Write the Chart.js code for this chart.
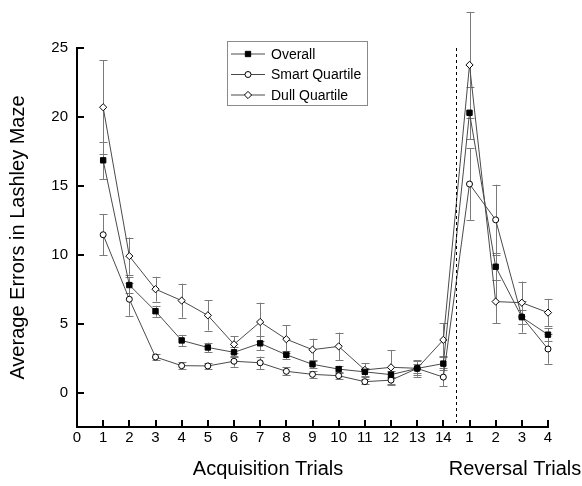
<!DOCTYPE html>
<html>
<head>
<meta charset="utf-8">
<script src="https://cdn.jsdelivr.net/npm/chart.js@4.4.0/dist/chart.umd.min.js"></script>
<style>
  html, body { margin: 0; padding: 0; background: #fff; }
  #wrap { width: 582px; height: 486px; }
</style>
</head>
<body>
<div id="wrap"><canvas id="chart" width="582" height="486"></canvas></div>
<script>
// x positions: acquisition trials 1-14, then reversal trials 1-4 placed at 15-18
const trialPos = [1, 2, 3, 4, 5, 6, 7, 8, 9, 10, 11, 12, 13, 14, 15, 16, 17, 18];
const tickLabels = ["0", "1", "2", "3", "4", "5", "6", "7", "8", "9", "10", "11", "12", "13", "14", "1", "2", "3", "4"];
const seriesNames = ["Overall", "Smart Quartile", "Dull Quartile"];

const overall    = [16.85, 7.8, 5.9, 3.78, 3.27, 2.92, 3.57, 2.74, 2.05, 1.7, 1.5, 1.3, 1.75, 2.1, 20.3, 9.13, 5.47, 4.2];
const overallErr = [1.35, 0.6, 0.4, 0.4, 0.35, 0.35, 0.5, 0.3, 0.3, 0.25, 0.3, 0.25, 0.3, 0.5, 1.9, 0.97, 0.5, 0.45];
const smart      = [11.45, 6.77, 2.58, 1.95, 1.93, 2.27, 2.16, 1.54, 1.32, 1.22, 0.79, 0.9, 1.75, 1.12, 15.13, 12.53, 5.5, 3.16];
const smartErr   = [1.5, 1.2, 0.25, 0.25, 0.25, 0.4, 0.45, 0.3, 0.25, 0.25, 0.2, 0.25, 0.6, 0.65, 2.6, 2.55, 1.15, 1.07];
const dull       = [20.7, 9.9, 7.5, 6.67, 5.6, 3.5, 5.12, 3.87, 3.11, 3.35, 1.64, 1.83, 1.76, 3.82, 23.77, 6.6, 6.52, 5.8];
const dullErr    = [3.4, 1.35, 0.9, 1.23, 1.1, 0.6, 1.4, 1.03, 0.8, 1.0, 0.5, 1.25, 0.5, 1.2, 3.85, 1.57, 1.53, 1.0];

const FONT = "'Liberation Sans', Arial, sans-serif";
const LINE = "#4a4a4a";
const ERR = "#7a7a7a";

function pts(vals) { return vals.map((v, i) => ({ x: trialPos[i], y: v })); }

const markerStyles = [
  { pointStyle: "rect", radius: 3.8, fill: "#000" },
  { pointStyle: "circle", radius: 3, fill: "#fff" },
  { pointStyle: "rectRot", radius: 3.6, fill: "#fff" }
];
const errs = [overallErr, smartErr, dullErr];

function makeSet(label, vals, m) {
  return {
    label: label,
    data: pts(vals),
    borderColor: LINE,
    borderWidth: 1,
    pointStyle: m.pointStyle,
    pointRadius: m.radius,
    pointBackgroundColor: m.fill,
    pointBorderColor: "#000",
    pointBorderWidth: 1,
    tension: 0,
    clip: false
  };
}

// error bars under the markers
const errorBars = {
  id: "errorBars",
  beforeDatasetsDraw(chart) {
    const ctx = chart.ctx, xs = chart.scales.x, ys = chart.scales.y;
    ctx.save();
    ctx.strokeStyle = ERR;
    ctx.lineWidth = 1;
    chart.data.datasets.forEach((ds, di) => {
      ds.data.forEach((p, i) => {
        const e = errs[di][i];
        const x = Math.round(xs.getPixelForValue(p.x)) + 0.5;
        const y1 = ys.getPixelForValue(p.y + e);
        const y2 = ys.getPixelForValue(p.y - e);
        ctx.beginPath();
        ctx.moveTo(x, y1); ctx.lineTo(x, y2);
        ctx.moveTo(x - 4, Math.round(y1) + 0.5); ctx.lineTo(x + 4, Math.round(y1) + 0.5);
        ctx.moveTo(x - 4, Math.round(y2) + 0.5); ctx.lineTo(x + 4, Math.round(y2) + 0.5);
        ctx.stroke();
      });
    });
    ctx.restore();
  }
};

function drawMarker(ctx, m, x, y) {
  ctx.fillStyle = m.fill;
  ctx.strokeStyle = "#000";
  ctx.lineWidth = 1;
  Chart.helpers.drawPoint(ctx, { pointStyle: m.pointStyle, radius: m.radius, rotation: 0, borderWidth: 1 }, x, y);
}

const decorations = {
  id: "decorations",
  afterDraw(chart) {
    const ctx = chart.ctx, xs = chart.scales.x, ys = chart.scales.y, a = chart.chartArea;
    ctx.save();
    // inward tick marks
    ctx.strokeStyle = "#000";
    ctx.lineWidth = 2;
    ctx.beginPath();
    xs.ticks.forEach(t => {
      const x = Math.round(xs.getPixelForValue(t.value));
      ctx.moveTo(x, a.bottom); ctx.lineTo(x, a.bottom - 7);
    });
    ys.ticks.forEach(t => {
      const y = Math.round(ys.getPixelForValue(t.value));
      ctx.moveTo(a.left, y); ctx.lineTo(a.left + 7, y);
    });
    ctx.stroke();

    // separator between acquisition and reversal
    const sx = Math.round(xs.getPixelForValue(14.5)) + 0.5;
    ctx.lineWidth = 1;
    ctx.setLineDash([3, 3]);
    ctx.beginPath();
    ctx.moveTo(sx, ys.getPixelForValue(25));
    ctx.lineTo(sx, a.bottom);
    ctx.stroke();
    ctx.setLineDash([]);

    // x titles
    ctx.fillStyle = "#000";
    ctx.font = "20px " + FONT;
    ctx.textAlign = "center";
    ctx.textBaseline = "middle";
    ctx.fillText("Acquisition Trials", 268, 469);
    ctx.fillText("Reversal Trials", 515, 469);

    // legend
    const bx = 227.5, by = 41.5, bw = 140, bh = 64;
    ctx.strokeStyle = "#8a8a8a";
    ctx.lineWidth = 1;
    ctx.strokeRect(bx, by, bw, bh);
    ctx.font = "14px " + FONT;
    ctx.textAlign = "left";
    chart.data.datasets.forEach((ds, i) => {
      const y = 54 + i * 20.5;
      ctx.strokeStyle = LINE;
      ctx.beginPath();
      ctx.moveTo(231, y); ctx.lineTo(265, y);
      ctx.stroke();
      drawMarker(ctx, markerStyles[i], 248, y);
      ctx.fillStyle = "#000";
      ctx.fillText(ds.label, 271, y + 1);
    });
    ctx.restore();
  }
};

new Chart(document.getElementById("chart"), {
  type: "line",
  data: {
    datasets: [
      makeSet(seriesNames[0], overall, markerStyles[0]),
      makeSet(seriesNames[1], smart, markerStyles[1]),
      makeSet(seriesNames[2], dull, markerStyles[2])
    ]
  },
  options: {
    responsive: false,
    animation: false,
    devicePixelRatio: 1,
    layout: { padding: { left: 0, top: 48, right: 34, bottom: 0 } },
    plugins: { legend: { display: false }, tooltip: { enabled: false } },
    scales: {
      x: {
        type: "linear",
        min: 0,
        max: 18,
        grid: { drawOnChartArea: false, drawTicks: false },
        border: { color: "#000", width: 2 },
        ticks: {
          stepSize: 1,
          autoSkip: false,
          maxRotation: 0,
          padding: 2,
          color: "#000",
          font: { family: FONT, size: 15 },
          callback: v => tickLabels[v]
        },
        afterFit: s => { s.height = 59; }
      },
      y: {
        min: -2.5,
        max: 25,
        grid: { drawOnChartArea: false, drawTicks: false },
        border: { color: "#000", width: 2 },
        ticks: {
          stepSize: 5,
          padding: 9,
          color: "#000",
          font: { family: FONT, size: 15 }
        },
        afterBuildTicks: s => { s.ticks = s.ticks.filter(t => t.value >= 0 && t.value % 5 === 0); },
        title: {
          display: true,
          text: "Average Errors in Lashley Maze",
          color: "#000",
          font: { family: FONT, size: 20 },
          padding: { top: 6, bottom: 0 }
        },
        afterFit: s => { s.width = 77; }
      }
    }
  },
  plugins: [errorBars, decorations]
});
</script>
</body>
</html>
